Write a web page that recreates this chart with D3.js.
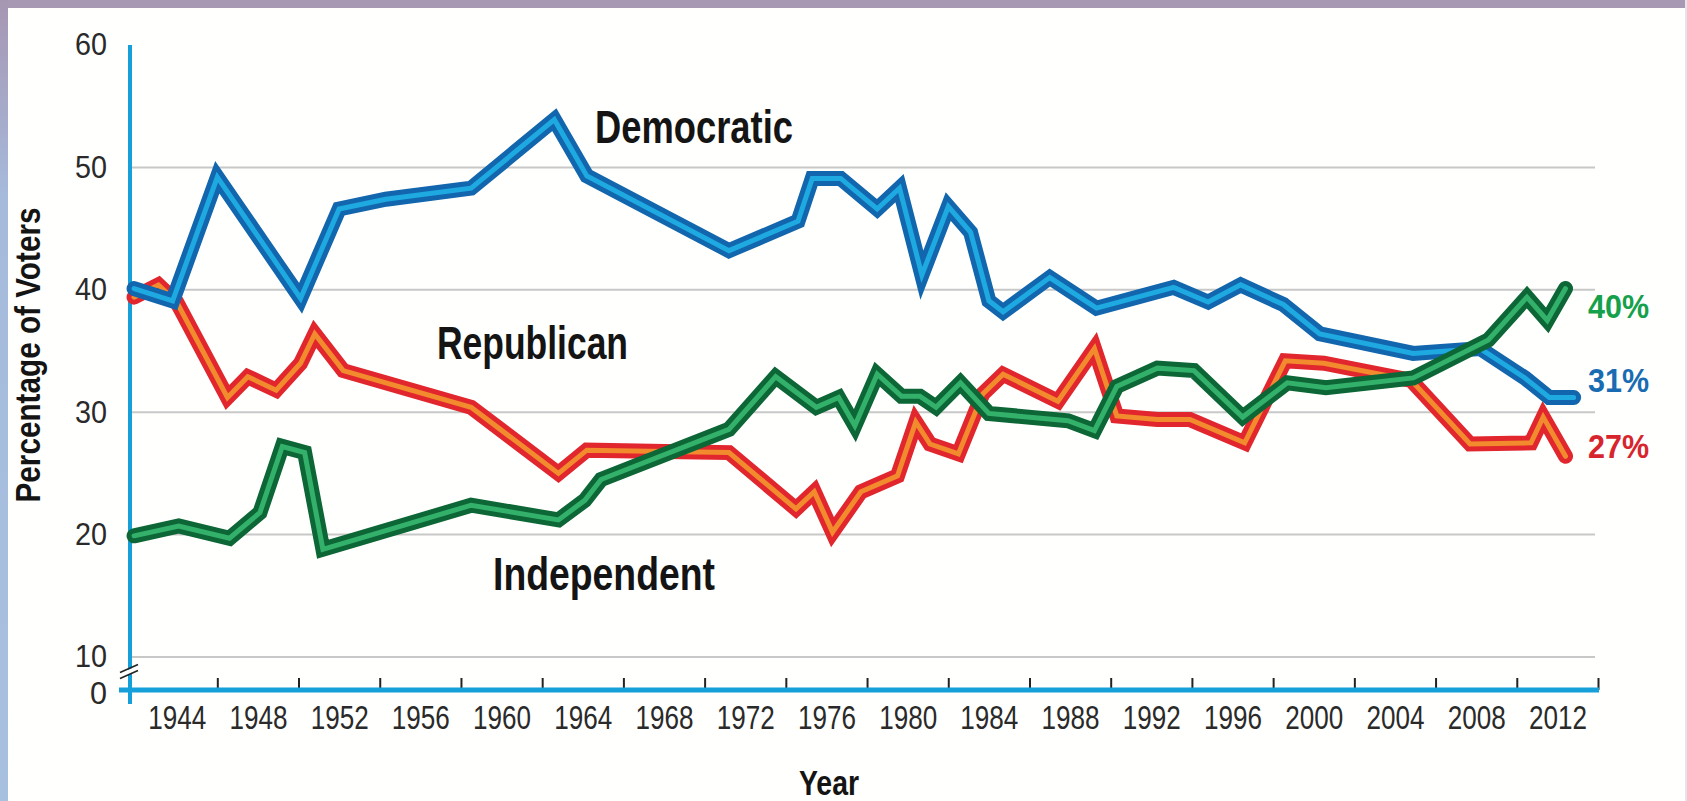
<!DOCTYPE html>
<html>
<head>
<meta charset="utf-8">
<style>
body { margin: 0; background: #fff; }
svg { display: block; }
text { font-family: "Liberation Sans", Arial, sans-serif; }
</style>
</head>
<body>
<svg width="1687" height="801"></svg>
<script src="https://cdn.jsdelivr.net/npm/d3@7/dist/d3.min.js"></script>
<script>
// values (year, percent)
var demYears = [1941.9, 1943.8, 1946.0, 1950.1, 1952.0, 1954.3, 1958.5, 1962.6, 1964.2, 1971.2, 1974.6, 1975.3,
    1976.7, 1978.5, 1979.6, 1980.7, 1982.0, 1983.1, 1984.0, 1984.7, 1987.0, 1989.3, 1993.1, 1994.8,
    1996.4, 1998.5, 2000.3, 2004.9, 2008.2, 2010.4, 2011.6, 2012.8];
var demValues = [40.1, 39.1, 49.2, 39.3, 46.6, 47.4, 48.3, 53.9, 49.3, 43.2, 45.6, 49.1,
    49.1, 46.6, 48.3, 41.2, 46.8, 44.7, 39.1, 38.2, 41.0, 38.5, 40.2, 39.0,
    40.4, 38.8, 36.4, 34.8, 35.2, 32.8, 31.2, 31.2];

var repYears = [1941.9, 1943.1, 1944.0, 1946.5, 1947.5, 1948.9, 1950.1, 1950.8, 1952.2, 1958.5, 1962.8, 1964.2,
    1971.2, 1974.5, 1975.4, 1976.3, 1977.7, 1979.5, 1980.4, 1981.1, 1982.5, 1983.7, 1984.7, 1987.4,
    1989.2, 1990.3, 1992.3, 1993.9, 1996.6, 1998.6, 2000.5, 2004.8, 2007.7, 2010.7, 2011.3, 2012.4];
var repValues = [39.4, 40.4, 39.0, 31.2, 32.9, 31.8, 34.0, 36.4, 33.4, 30.4, 25.0, 26.9,
    26.7, 22.1, 23.5, 20.2, 23.5, 24.8, 29.2, 27.4, 26.6, 31.5, 33.1, 30.9,
    35.2, 29.7, 29.4, 29.4, 27.5, 34.2, 34.0, 32.6, 27.4, 27.5, 29.6, 26.4];

var indYears = [1941.9, 1944.1, 1946.6, 1948.1, 1949.2, 1950.3, 1951.2, 1958.5, 1962.8, 1964.1, 1964.9, 1971.2,
    1973.5, 1975.5, 1976.6, 1977.4, 1978.5, 1979.7, 1980.6, 1981.4, 1982.6, 1984.0, 1987.9, 1989.2,
    1990.3, 1992.3, 1994.1, 1996.5, 1998.7, 2000.6, 2004.9, 2008.6, 2010.5, 2011.5, 2012.4];
var indValues = [19.9, 20.7, 19.7, 21.8, 27.2, 26.7, 18.8, 22.4, 21.2, 22.8, 24.5, 28.6,
    32.9, 30.4, 31.2, 28.9, 33.1, 31.3, 31.3, 30.4, 32.4, 29.9, 29.3, 28.5,
    32.1, 33.6, 33.4, 29.6, 32.4, 32.0, 32.8, 35.9, 39.4, 37.5, 40.1];

var yTickValues = [0, 10, 20, 30, 40, 50, 60];
var gridValues = [10, 20, 30, 40, 50];
var tickYears = d3.range(1946, 2015, 4);
var labelYears = d3.range(1944, 2013, 4);

var svg = d3.select("svg"),
    width = +svg.attr("width"),
    height = +svg.attr("height");

var x = d3.scaleLinear().domain([1941.7, 2014]).range([130, 1598]);
// broken axis: 0 sits just under 10
var y = d3.scaleLinear().domain([0, 10, 60]).range([690, 657, 45]);

var lightFont = "Roboto, 'Liberation Sans', sans-serif";

// page frame
var defs = svg.append("defs");
var grad = defs.append("linearGradient").attr("id", "side").attr("x1", 0).attr("y1", 0).attr("x2", 0).attr("y2", 1);
grad.append("stop").attr("offset", "0%").attr("stop-color", "#a696b2");
grad.append("stop").attr("offset", "25%").attr("stop-color", "#a6bbdc");
grad.append("stop").attr("offset", "100%").attr("stop-color", "#a8c0e0");

svg.append("rect").attr("width", width).attr("height", height).attr("fill", "#fffffd");
svg.append("rect").attr("width", width).attr("height", 8).attr("fill", "#a798b3");
svg.append("rect").attr("y", 0).attr("width", 8).attr("height", height).attr("fill", "url(#side)");
svg.append("rect").attr("x", width - 2).attr("width", 2).attr("height", height).attr("fill", "#e4e4ea");

// grid
svg.append("g").selectAll("line")
    .data(gridValues)
    .enter().append("line")
    .attr("x1", 130).attr("x2", 1595)
    .attr("y1", d => y(d)).attr("y2", d => y(d))
    .attr("stroke", "#c8c8c8").attr("stroke-width", 2);

// y axis labels
var yAxis = svg.append("g")
    .attr("transform", "translate(130,0)")
    .call(d3.axisLeft(y).tickValues(yTickValues).tickSize(0).tickPadding(23));
yAxis.select(".domain").remove();
yAxis.selectAll("text")
    .attr("font-family", lightFont).attr("font-weight", 300)
    .attr("font-size", 31).attr("fill", "#2a2a2a")
    .attr("dy", d => d === 0 ? "0.42em" : "0.32em")
    .attr("textLength", d => d === 0 ? 17 : 32)
    .attr("lengthAdjust", "spacingAndGlyphs");

// x ticks (upward) and year labels (between ticks)
var xTicks = svg.append("g")
    .attr("transform", "translate(0,690)")
    .call(d3.axisBottom(x).tickValues(tickYears).tickSizeInner(-12).tickSizeOuter(0).tickFormat(""));
xTicks.select(".domain").remove();
xTicks.selectAll("line").attr("stroke", "#222").attr("stroke-width", 2);

var xLabels = svg.append("g")
    .attr("transform", "translate(0,690)")
    .call(d3.axisBottom(x).tickValues(labelYears).tickSize(0).tickPadding(16).tickFormat(d3.format("d")));
xLabels.select(".domain").remove();
xLabels.selectAll("text")
    .attr("font-family", lightFont).attr("font-weight", 300)
    .attr("font-size", 33).attr("fill", "#2a2a2a")
    .attr("textLength", 58)
    .attr("lengthAdjust", "spacingAndGlyphs");

// axis lines
svg.append("line").attr("x1", 130).attr("x2", 130).attr("y1", y(60)).attr("y2", 704)
    .attr("stroke", "#15a0da").attr("stroke-width", 4);
svg.append("line").attr("x1", 119).attr("x2", 1599).attr("y1", y(0)).attr("y2", y(0))
    .attr("stroke", "#15a0da").attr("stroke-width", 5);

// break marks on the y axis
var by = y(5);
svg.append("path")
    .attr("d", "M120," + (by + 5) + "L138," + (by - 3) + "L138," + (by - 8) + "L120," + by + "Z")
    .attr("fill", "#fffffd");
[0, 6].forEach(function(o) {
    svg.append("line")
        .attr("x1", 120).attr("y1", by + 5 - o)
        .attr("x2", 138).attr("y2", by - 3 - o)
        .attr("stroke", "#222").attr("stroke-width", 1.6);
});

// series
var series = [
    {name: "Republican", years: repYears, values: repValues, outer: "#e1262d", inner: "#f28a2e"},
    {name: "Democratic", years: demYears, values: demValues, outer: "#1266ad", inner: "#1fa9e1"},
    {name: "Independent", years: indYears, values: indValues, outer: "#0c6636", inner: "#33b06a"}
];

var line = d3.line()
    .x(d => x(d[0]))
    .y(d => y(d[1]));

series.forEach(function(s) {
    var pts = s.years.map((yr, i) => [yr, s.values[i]]);
    var g = svg.append("g").attr("class", "series");
    g.append("path").datum(pts)
        .attr("d", line).attr("fill", "none")
        .attr("stroke", s.outer).attr("stroke-width", 15)
        .attr("stroke-linejoin", "miter").attr("stroke-miterlimit", 6)
        .attr("stroke-linecap", "round");
    g.append("path").datum(pts)
        .attr("d", line).attr("fill", "none")
        .attr("stroke", s.inner).attr("stroke-width", 5)
        .attr("stroke-linejoin", "miter").attr("stroke-miterlimit", 6)
        .attr("stroke-linecap", "round");
});

// series names (condensed bold, squeezed to the widths in the picture)
var names = [
    {text: "Democratic", x: 595, y: 143, w: 198},
    {text: "Republican", x: 437, y: 359, w: 191},
    {text: "Independent", x: 493, y: 590, w: 222}
];
svg.append("g").selectAll("text")
    .data(names)
    .enter().append("text")
    .attr("x", d => d.x).attr("y", d => d.y)
    .attr("font-size", 46).attr("font-weight", "bold").attr("fill", "#141414")
    .attr("textLength", d => d.w).attr("lengthAdjust", "spacingAndGlyphs")
    .text(d => d.text);

// end values
var ends = [
    {text: "40%", y: 318, color: "#15a04c"},
    {text: "31%", y: 392, color: "#1a6cb2"},
    {text: "27%", y: 458, color: "#d8252d"}
];
svg.append("g").selectAll("text")
    .data(ends)
    .enter().append("text")
    .attr("x", 1588).attr("y", d => d.y)
    .attr("font-size", 33).attr("font-weight", "bold").attr("fill", d => d.color)
    .attr("textLength", 61).attr("lengthAdjust", "spacingAndGlyphs")
    .text(d => d.text);

// axis titles
svg.append("text")
    .attr("transform", "translate(40,355) rotate(-90)")
    .attr("text-anchor", "middle")
    .attr("font-size", 35).attr("font-weight", "bold").attr("fill", "#141414")
    .attr("textLength", 295).attr("lengthAdjust", "spacingAndGlyphs")
    .text("Percentage of Voters");

svg.append("text")
    .attr("x", 829).attr("y", 795)
    .attr("text-anchor", "middle")
    .attr("font-size", 35).attr("font-weight", "bold").attr("fill", "#141414")
    .attr("textLength", 60).attr("lengthAdjust", "spacingAndGlyphs")
    .text("Year");
</script>
</body>
</html>
